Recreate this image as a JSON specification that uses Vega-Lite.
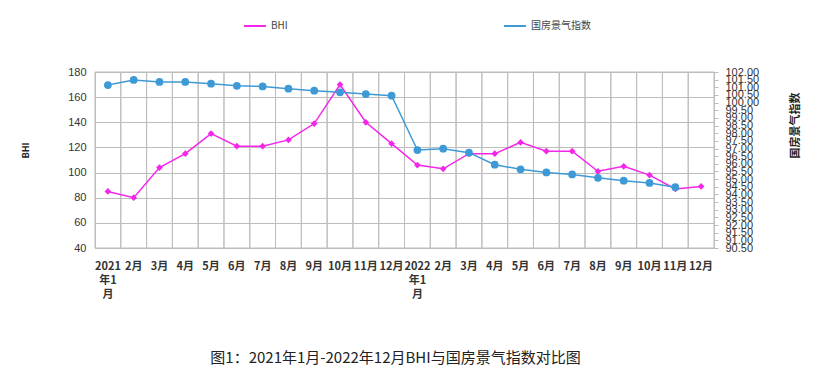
{
  "$schema": "https://vega.github.io/schema/vega-lite/v6.json",
  "autosize": "none",
  "width": 619,
  "height": 176,
  "padding": {"left": 95, "top": 72, "right": 124, "bottom": 132},
  "background": "white",
  "config": {
    "view": {"stroke": "#cfcfcf"},
    "font": "Noto Sans CJK SC"
  },
  "title": {
    "text": "图1：2021年1月-2022年12月BHI与国房景气指数对比图",
    "orient": "bottom",
    "anchor": "middle",
    "frame": "group",
    "offset": 52,
    "fontSize": 15,
    "fontWeight": "normal",
    "color": "#222222",
    "dx": -9
  },
  "data": {
    "values": [
      {"m": "2021年1月", "BHI": 85, "idx": 101.15},
      {"m": "2021年2月", "BHI": 80, "idx": 101.48},
      {"m": "2021年3月", "BHI": 104, "idx": 101.35},
      {"m": "2021年4月", "BHI": 115, "idx": 101.35},
      {"m": "2021年5月", "BHI": 131, "idx": 101.24},
      {"m": "2021年6月", "BHI": 121, "idx": 101.1},
      {"m": "2021年7月", "BHI": 121, "idx": 101.06},
      {"m": "2021年8月", "BHI": 126, "idx": 100.91},
      {"m": "2021年9月", "BHI": 139, "idx": 100.78},
      {"m": "2021年10月", "BHI": 170, "idx": 100.67},
      {"m": "2021年11月", "BHI": 140, "idx": 100.56},
      {"m": "2021年12月", "BHI": 123, "idx": 100.45},
      {"m": "2022年1月", "BHI": 106, "idx": 96.9},
      {"m": "2022年2月", "BHI": 103, "idx": 96.99},
      {"m": "2022年3月", "BHI": 115, "idx": 96.73},
      {"m": "2022年4月", "BHI": 115, "idx": 95.94},
      {"m": "2022年5月", "BHI": 124, "idx": 95.64},
      {"m": "2022年6月", "BHI": 117, "idx": 95.44},
      {"m": "2022年7月", "BHI": 117, "idx": 95.31},
      {"m": "2022年8月", "BHI": 101, "idx": 95.09},
      {"m": "2022年9月", "BHI": 105, "idx": 94.9},
      {"m": "2022年10月", "BHI": 98, "idx": 94.75},
      {"m": "2022年11月", "BHI": 87, "idx": 94.47},
      {"m": "2022年12月", "BHI": 89, "idx": null}
    ]
  },
  "encoding": {
    "x": {
      "field": "m",
      "type": "ordinal",
      "sort": null,
      "scale": {"type": "band", "paddingInner": 0, "paddingOuter": 0},
      "axis": {
        "title": null,
        "grid": false,
        "ticks": false,
        "domain": false,
        "labelAngle": 0,
        "labelPadding": 12,
        "labelFontSize": 11,
        "labelFontWeight": "bold",
        "labelColor": "#333333",
        "labelLineHeight": 14,
        "labelBaseline": "top",
        "labelOverlap": false,
        "labelExpr": "length(datum.value) == 7 && slice(datum.value, 5) == '1月' ? [slice(datum.value, 0, 4), '年1', '月'] : slice(datum.value, 5)"
      }
    }
  },
  "layer": [
    {
      "mark": {"type": "bar", "fill": null, "fillOpacity": 0, "stroke": "#bdbdbd", "strokeWidth": 1},
      "encoding": {
        "y": {"datum": 180, "type": "quantitative", "scale": {"domain": [40, 180]}, "axis": null},
        "y2": {"datum": 40}
      }
    },
    {
      "mark": {"type": "line", "strokeWidth": 1.5, "point": {"shape": "diamond", "size": 45, "filled": true}},
      "encoding": {
        "y": {
          "field": "BHI",
          "type": "quantitative",
          "scale": {"domain": [40, 180], "nice": false, "zero": false},
          "axis": {
            "title": "BHI",
            "titleAngle": -90,
            "titleFontSize": 9,
            "titleFontWeight": "bold",
            "titleColor": "#222222",
            "titleX": -70,
            "titleY": 78,
            "titleAlign": "center",
            "titleBaseline": "middle",
            "values": [40, 60, 80, 100, 120, 140, 160, 180],
            "grid": true,
            "gridColor": "#bdbdbd",
            "ticks": false,
            "domainColor": "#bdbdbd",
            "labelPadding": 9,
            "labelFontSize": 11,
            "labelFont": "Liberation Sans",
            "labelColor": "#333333"
          }
        },
        "color": {
          "datum": "BHI",
          "type": "nominal",
          "scale": {"range": ["#f526ea", "#3d9ad6"]},
          "legend": {
            "title": null,
            "orient": "none",
            "direction": "horizontal",
            "legendX": 148,
            "legendY": -58,
            "columnPadding": 212,
            "symbolType": "stroke",
            "symbolSize": 480,
            "symbolStrokeWidth": 2,
            "labelFontSize": 10,
            "labelColor": "#444444"
          }
        }
      }
    },
    {
      "mark": {"type": "line", "strokeWidth": 1.5, "point": {"shape": "circle", "size": 60, "filled": true, "opacity": 1}},
      "encoding": {
        "y": {
          "field": "idx",
          "type": "quantitative",
          "scale": {"domain": [90.5, 102], "nice": false, "zero": false},
          "axis": {
            "orient": "right",
            "title": "国房景气指数",
            "titleAngle": -90,
            "titleFontSize": 11,
            "titleFontWeight": "bold",
            "titleColor": "#222222",
            "titleX": 81,
            "titleY": 53,
            "titleAlign": "center",
            "titleBaseline": "middle",
            "values": [90.5, 91, 91.5, 92, 92.5, 93, 93.5, 94, 94.5, 95, 95.5, 96, 96.5, 97, 97.5, 98, 98.5, 99, 99.5, 100, 100.5, 101, 101.5, 102],
            "format": ".2f",
            "grid": false,
            "tickSize": 4,
            "tickColor": "#bdbdbd",
            "domainColor": "#bdbdbd",
            "labelPadding": 7,
            "labelFontSize": 11,
            "labelFont": "Liberation Sans",
            "labelColor": "#333333",
            "labelOverlap": false,
            "labelBound": false
          }
        },
        "color": {"datum": "国房景气指数", "type": "nominal"}
      }
    }
  ],
  "resolve": {"scale": {"y": "independent"}}
}
